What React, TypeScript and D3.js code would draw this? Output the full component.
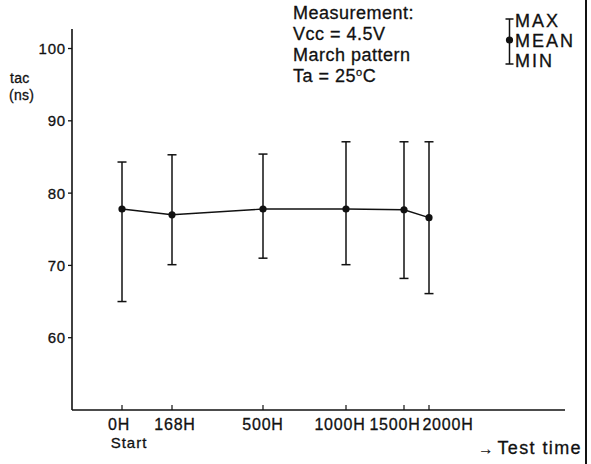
import * as d3 from 'd3';
import React, { useEffect, useRef } from 'react';

// test time points (hours) and their labels
const hours = [0, 168, 500, 1000, 1500, 2000];
const tickLabels = ['0H', '168H', '500H', '1000H', '1500H', '2000H'];

// tac (ns)
const maxValues = [84.3, 85.3, 85.4, 87.1, 87.1, 87.1];
const meanValues = [77.8, 77.0, 77.8, 77.8, 77.7, 76.6];
const minValues = [65.0, 70.1, 71.0, 70.1, 68.2, 66.1];

const yTicks = [60, 70, 80, 90, 100];

const conditions = ['Measurement:', 'Vcc = 4.5V', 'March pattern'];
const legendLabels = ['MAX', 'MEAN', 'MIN'];

const W = 591;
const H = 464;
const FONT = '"Liberation Sans", Arial, Helvetica, sans-serif';
const INK = '#111';

// the hand-drawn time axis is not proportional, so it is piecewise
const xRange = [122, 172, 263, 346, 404, 429];
const labelShift = [-3, 3, 0, -6, -9, 19];

const Chart = () => {
  const ref = useRef<SVGSVGElement>(null);

  useEffect(() => {
    if (!ref.current) return;
    const svg = d3.select(ref.current);
    svg.selectAll('*').remove();

    const x = d3.scaleLinear().domain(hours).range(xRange);
    const y = d3.scaleLinear().domain([50, 102.7]).range([410, 29]);
    const axisLeft = 72;
    const axisBottom = y(50);

    svg.append('rect').attr('width', W).attr('height', H).attr('fill', '#fff');

    // text looks a bit heavy in the scan
    const txt = (sel: any, size: number, spacing: number) =>
      sel.style('font-family', FONT).style('font-size', `${size}px`)
        .style('letter-spacing', `${spacing}px`)
        .attr('fill', INK).attr('stroke', INK).attr('stroke-width', 0.3);

    // axes
    svg.append('line')
      .attr('x1', axisLeft).attr('x2', axisLeft)
      .attr('y1', y(102.7)).attr('y2', axisBottom)
      .attr('stroke', INK).attr('stroke-width', 1.6);
    svg.append('line')
      .attr('x1', axisLeft).attr('x2', 565)
      .attr('y1', axisBottom).attr('y2', axisBottom)
      .attr('stroke', INK).attr('stroke-width', 1.6);

    // right frame line
    svg.append('line')
      .attr('x1', 586).attr('x2', 586).attr('y1', 0).attr('y2', H)
      .attr('stroke', INK).attr('stroke-width', 2);

    // y ticks
    const yt = svg.append('g');
    yt.selectAll('line').data(yTicks).join('line')
      .attr('x1', axisLeft - 4).attr('x2', axisLeft)
      .attr('y1', d => y(d)).attr('y2', d => y(d))
      .attr('stroke', INK).attr('stroke-width', 1.3);
    txt(yt.selectAll('text').data(yTicks).join('text'), 15, 0.8)
      .attr('x', axisLeft - 6).attr('y', d => y(d)).attr('dy', '0.36em')
      .attr('text-anchor', 'end')
      .text(d => d);

    // x ticks
    const xt = svg.append('g');
    xt.selectAll('line').data(hours).join('line')
      .attr('x1', d => x(d)).attr('x2', d => x(d))
      .attr('y1', axisBottom).attr('y2', axisBottom - 5)
      .attr('stroke', INK).attr('stroke-width', 1.2);
    txt(xt.selectAll('text').data(hours).join('text'), 16, 0.8)
      .attr('x', (d, i) => x(d) + labelShift[i]).attr('y', 429.5)
      .attr('text-anchor', 'middle')
      .text((d, i) => tickLabels[i]);

    txt(svg.append('text'), 15, 1)
      .attr('x', x(0) + 7).attr('y', 448).attr('text-anchor', 'middle')
      .text('Start');

    const tt = txt(svg.append('text'), 18, 0)
      .attr('x', 582).attr('y', 453.5).attr('text-anchor', 'end');
    tt.append('tspan').style('font-size', '15px').text('→ ');
    tt.append('tspan').style('font-size', '18px').style('letter-spacing', '1.4px').text('Test time');

    // y label
    const yl = txt(svg.append('text'), 14, 0.3);
    yl.append('tspan').attr('x', 10).attr('y', 83).text('tac');
    yl.append('tspan').attr('x', 9).attr('y', 100).text('(ns)');

    // error bars
    const pts = hours.map((h, i) => ({ h, max: maxValues[i], mean: meanValues[i], min: minValues[i] }));
    const bars = svg.append('g').attr('stroke', INK).attr('stroke-width', 1.5);
    bars.selectAll('.bar').data(pts).join('line').attr('class', 'bar')
      .attr('x1', d => x(d.h)).attr('x2', d => x(d.h))
      .attr('y1', d => y(d.max)).attr('y2', d => y(d.min));
    bars.selectAll('.capTop').data(pts).join('line').attr('class', 'capTop')
      .attr('x1', d => x(d.h) - 4.5).attr('x2', d => x(d.h) + 4.5)
      .attr('y1', d => y(d.max)).attr('y2', d => y(d.max));
    bars.selectAll('.capBot').data(pts).join('line').attr('class', 'capBot')
      .attr('x1', d => x(d.h) - 4.5).attr('x2', d => x(d.h) + 4.5)
      .attr('y1', d => y(d.min)).attr('y2', d => y(d.min));

    const line = d3.line<typeof pts[0]>().x(d => x(d.h)).y(d => y(d.mean));
    svg.append('path').datum(pts)
      .attr('d', line).attr('fill', 'none').attr('stroke', INK).attr('stroke-width', 1.4);
    svg.append('g').selectAll('circle').data(pts).join('circle')
      .attr('cx', d => x(d.h)).attr('cy', d => y(d.mean)).attr('r', 3.6).attr('fill', INK);

    // measurement conditions
    const cond = txt(svg.append('text'), 18, 0.5);
    conditions.forEach((c, i) => {
      cond.append('tspan').attr('x', 293).attr('y', 18.5 + i * 21).text(c);
    });
    cond.append('tspan').attr('x', 293).attr('y', 18.5 + 3 * 21).text('Ta = 25');
    cond.append('tspan').attr('dy', -6).style('font-size', '11px').text('o');
    cond.append('tspan').attr('dy', 6).text('C');

    // legend
    const lg = svg.append('g').attr('stroke', INK).attr('stroke-width', 1.5);
    lg.append('line').attr('x1', 509.5).attr('x2', 509.5).attr('y1', 19).attr('y2', 64);
    lg.append('line').attr('x1', 505.5).attr('x2', 513.5).attr('y1', 19).attr('y2', 19);
    lg.append('line').attr('x1', 505.5).attr('x2', 513.5).attr('y1', 64).attr('y2', 64);
    lg.append('circle').attr('cx', 509.5).attr('cy', 40).attr('r', 3.6).attr('fill', INK).attr('stroke', 'none');
    txt(svg.append('g').selectAll('text').data(legendLabels).join('text'), 18, 2)
      .attr('x', 515).attr('y', (d, i) => 26.5 + i * 20)
      .text(d => d);
  }, []);

  return <svg ref={ref} width={W} height={H} style={{ display: 'block' }} />;
};

export default function App() {
  return (
    <div style={{ position: 'absolute', left: 0, top: 0 }}>
      <Chart />
    </div>
  );
}
